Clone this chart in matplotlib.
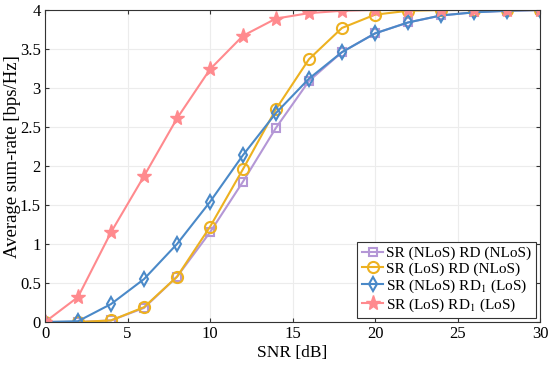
import matplotlib
matplotlib.use('Agg')
import matplotlib.pyplot as plt

# SNR axis and the four sum-rate curves
snr = [0, 2, 4, 6, 8, 10, 12, 14, 16, 18, 20, 22, 24, 26, 28, 30]
sr_nlos_rd_nlos = [0, 0, 0.02, 0.18, 0.58, 1.15, 1.80, 2.49, 3.09, 3.46, 3.70, 3.84, 3.93, 3.97, 3.99, 4.0]
sr_los_rd_nlos = [0, 0, 0.02, 0.19, 0.58, 1.22, 1.96, 2.73, 3.37, 3.77, 3.94, 3.99, 4.0, 4.0, 4.0, 4.0]
sr_nlos_rd1_los = [0, 0.01, 0.23, 0.55, 1.00, 1.54, 2.14, 2.68, 3.12, 3.46, 3.70, 3.84, 3.93, 3.97, 3.99, 4.0]
sr_los_rd1_los = [0, 0.32, 1.15, 1.87, 2.61, 3.24, 3.67, 3.89, 3.96, 3.99, 4.0, 4.0, 4.0, 4.0, 4.0, 4.0]

labels = ['SR (NLoS) RD (NLoS)', 'SR (LoS) RD (NLoS)',
          'SR (NLoS) RD$_1$ (LoS)', 'SR (LoS) RD$_1$ (LoS)']

plt.rcParams['font.family'] = 'Liberation Serif'
plt.rcParams['mathtext.fontset'] = 'stix'

fig = plt.figure(figsize=(5.5, 3.72), dpi=100)
ax = fig.add_axes([45/550, 50/372, 495/550, 312/372])

ax.plot(snr, sr_nlos_rd_nlos, color='#b497d6', marker='s', ms=6, mfc='none', mew=1.5, lw=1.5, label=labels[0])
ax.plot(snr, sr_los_rd_nlos, color='#edb120', marker='o', ms=8, mfc='none', mew=1.5, lw=1.5, label=labels[1])
ax.plot(snr, sr_nlos_rd1_los, color='#4a89c8', marker='d', ms=7.5, mfc='none', mew=1.5, lw=1.5, label=labels[2])
ax.plot(snr, sr_los_rd1_los, color='#ff8a8e', marker='*', ms=11, lw=1.5, label=labels[3])

ax.set_xlim(0, 30)
ax.set_ylim(0, 4)
ax.set_xticks([0, 5, 10, 15, 20, 25, 30])
ax.set_yticks([0, 0.5, 1, 1.5, 2, 2.5, 3, 3.5, 4])
ax.set_yticklabels(['0', '0.5', '1', '1.5', '2', '2.5', '3', '3.5', '4'])
ax.grid(True, color='#ececec', lw=0.8)
ax.set_axisbelow(True)
ax.tick_params(direction='in', labelsize=12, top=True, right=True, color='#333333', length=3, pad=3)
for s in ax.spines.values():
    s.set_color('#333333')
    s.set_linewidth(0.8)
ax.set_xlabel('SNR [dB]', fontsize=12.5, labelpad=2)
ax.set_ylabel('Average sum-rate [bps/Hz]', fontsize=13.5, va='center')
ax.yaxis.set_label_coords(-0.066, 0.53)

leg = ax.legend(loc='lower right', fontsize=11, handlelength=1.4, handletextpad=0.2,
                borderpad=0.3, labelspacing=0.1, fancybox=False, framealpha=1,
                edgecolor='#333333', borderaxespad=0.25)
leg.get_frame().set_linewidth(0.8)

fig.savefig('out.png', dpi=100)
